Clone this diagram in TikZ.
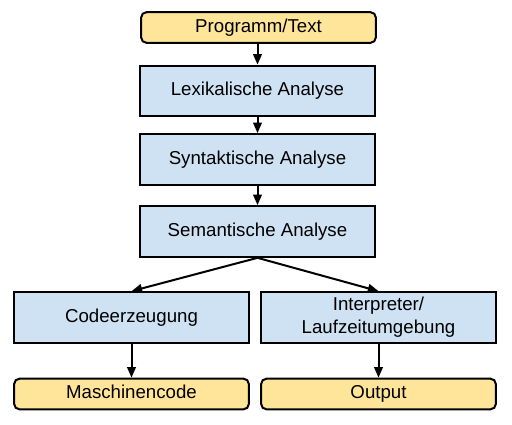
\documentclass[tikz,border=0pt]{standalone}
\usepackage{fontspec}
\setmainfont{Liberation Sans}
\usetikzlibrary{arrows.meta}
\definecolor{boxblue}{HTML}{CFE2F3}
\definecolor{boxyellow}{HTML}{FFE599}
\tikzset{
  stage/.style={draw=black, fill=boxblue, line width=1.5pt, minimum width=176pt, minimum height=38pt, inner sep=0pt, align=center, font=\fontsize{14}{17}\selectfont},
  io/.style={draw=black, fill=boxyellow, line width=1.5pt, rounded corners=4pt, minimum width=176pt, minimum height=23pt, inner sep=0pt, text height=10pt, text depth=3pt, align=center, font=\fontsize{14}{17}\selectfont},
  flow/.style={line width=1.5pt, -{Triangle[length=8pt,width=6.5pt]}}
}
\begin{document}
\begin{tikzpicture}[x=0.75pt,y=-0.75pt]
\useasboundingbox (0,0) rectangle (512,425);
\node[io] (prog) at (258.5,27.5) {Programm/Text};
\node[stage] (lex) at (257.5,91) {Lexikalische Analyse};
\node[stage] (syn) at (257.5,159.5) {Syntaktische Analyse};
\node[stage] (sem) at (257.5,231.5) {Semantische Analyse};
\node[stage] (code) at (131.5,317.5) {Codeerzeugung};
\node[stage] (interp) at (378.5,317.5) {Interpreter/\\Laufzeitumgebung};
\node[io] (masch) at (131.5,394) {Maschinencode};
\node[io] (out) at (378.5,394) {Output};
\draw[flow] (prog.south -| lex.north) -- (lex.north);
\draw[flow] (lex) -- (syn);
\draw[flow] (syn) -- (sem);
\draw[flow] (sem.south) -- (code.north);
\draw[flow] (sem.south) -- (interp.north);
\draw[flow] (code) -- (masch);
\draw[flow] (interp) -- (out);
\end{tikzpicture}
\end{document}
